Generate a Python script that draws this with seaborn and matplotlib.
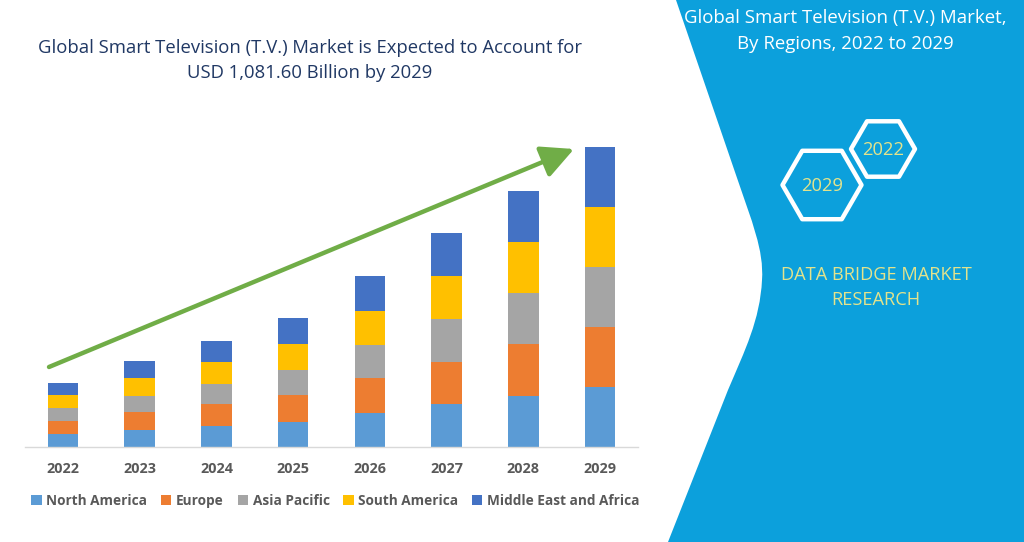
import numpy as np
import pandas as pd
import matplotlib
matplotlib.use("Agg")
import matplotlib.pyplot as plt
from matplotlib.path import Path
from matplotlib.patches import PathPatch, RegularPolygon
import seaborn as sns

# ---------------- data ----------------
years = ["2022", "2023", "2024", "2025", "2026", "2027", "2028", "2029"]
regions = ["North America", "Europe", "Asia Pacific", "South America", "Middle East and Africa"]
north_america = [46, 60, 77, 92, 123, 154, 184, 216]
europe = [47, 65, 79, 94, 126, 154, 187, 217]
asia_pacific = [46, 59, 71, 91, 119, 155, 185, 217]
south_america = [47, 64, 79, 94, 124, 154, 185, 216]
middle_east_africa = [45, 61, 78, 94, 125, 157, 184, 216]
series = [north_america, europe, asia_pacific, south_america, middle_east_africa]
colors = ["#5B9BD5", "#ED7D31", "#A5A5A5", "#FFC000", "#4472C4"]

title_lines = ["Global Smart Television (T.V.) Market is Expected to Account for",
               "USD 1,081.60 Billion by 2029"]
side_title = ["Global Smart Television (T.V.) Market,", "By Regions, 2022 to 2029"]
brand = ["DATA BRIDGE MARKET", "RESEARCH"]
hex_labels = ["2022", "2029"]

# ---------------- setup ----------------
sns.set_theme(style="white")
plt.rcParams["font.family"] = ["Open Sans", "DejaVu Sans"]

W, H = 1024, 542
fig = plt.figure(figsize=(W / 100, H / 100), dpi=100)
fig.patch.set_facecolor("white")

# background overlay in pixel coordinates (y downwards)
bg = fig.add_axes([0, 0, 1, 1], zorder=0)
bg.set_xlim(0, W)
bg.set_ylim(H, 0)
bg.axis("off")

blue = "#0CA0DC"
verts = [(676, 0), (736, 175), (752, 222), (764, 250), (762, 280),
         (760, 320), (745, 350), (728, 390), (668, 542), (W, 542), (W, 0), (676, 0)]
codes = [Path.MOVETO, Path.LINETO, Path.CURVE4, Path.CURVE4, Path.CURVE4,
         Path.CURVE4, Path.CURVE4, Path.CURVE4, Path.LINETO, Path.LINETO, Path.LINETO, Path.CLOSEPOLY]
bg.add_patch(PathPatch(Path(verts, codes), facecolor=blue, edgecolor="none"))

# hexagons
for (cx, cy, r) in [(883, 149, 32), (822, 185, 39.5)]:
    bg.add_patch(RegularPolygon((cx, cy), numVertices=6, radius=r, orientation=np.pi / 6,
                                facecolor="none", edgecolor="white", lw=3.2, joinstyle="round"))

renderer = fig.canvas.get_renderer()


def fit(t, width_px):
    w = t.get_window_extent(renderer).width
    t.set_fontsize(t.get_fontsize() * width_px / w)
    return t.get_fontsize()


txt_col = "#E3E38C"
t1 = bg.text(883, 150, hex_labels[0], ha="center", va="center", color=txt_col, fontsize=12)
fit(t1, 42)
t2 = bg.text(822, 186, hex_labels[1], ha="center", va="center", color=txt_col, fontsize=12)
fit(t2, 42)

b1 = bg.text(876, 275, brand[0], ha="center", va="center", color=txt_col, fontsize=12)
fs = fit(b1, 191)
bg.text(876, 300, brand[1], ha="center", va="center", color=txt_col, fontsize=fs)

s1 = bg.text(845, 18, side_title[0], ha="center", va="center", color="white", fontsize=12)
fs = fit(s1, 320)
bg.text(845, 44, side_title[1], ha="center", va="center", color="white", fontsize=fs)

title_col = "#203864"
m1 = bg.text(310, 48, title_lines[0], ha="center", va="center", color=title_col, fontsize=14)
fs = fit(m1, 546)
bg.text(310, 73, title_lines[1], ha="center", va="center", color=title_col, fontsize=fs)

# ---------------- chart ----------------
left_px, right_px, base_px, top_px = 24.6, 638.4, 447, 140
ax = fig.add_axes([left_px / W, (H - base_px) / H, (right_px - left_px) / W,
                   (base_px - top_px) / H], zorder=2)
ax.patch.set_alpha(0)

bottom = np.zeros(len(years))
for reg, vals, col in zip(regions, series, colors):
    df = pd.DataFrame({"Year": years, "Value": vals})
    sns.barplot(data=df, x="Year", y="Value", order=years, color=col, saturation=1,
                width=0.4, bottom=bottom, errorbar=None, linewidth=0, label=reg, ax=ax)
    bottom = bottom + np.array(vals, dtype=float)

ax.set_xlim(-0.5, len(years) - 0.5)
ax.set_ylim(0, (base_px - top_px) * 1081.6 / 299.7)
ax.set_xlabel("")
ax.set_ylabel("")
ax.set_yticks([])
for sp in ["top", "right", "left"]:
    ax.spines[sp].set_visible(False)
ax.spines["bottom"].set_color("#D9D9D9")
ax.spines["bottom"].set_linewidth(1)
ax.tick_params(axis="x", length=0, pad=11, labelsize=10.4, labelcolor="#595959")
for lab in ax.get_xticklabels():
    lab.set_fontweight("bold")

# trend arrow
ax.annotate("", xy=(574, H - 149), xytext=(49, H - 367),
            xycoords="figure pixels", textcoords="figure pixels", annotation_clip=False,
            arrowprops=dict(arrowstyle="-|>,head_length=0.9,head_width=0.45", color="#70AD47",
                            lw=3.2, mutation_scale=22, shrinkA=0, shrinkB=0))

handles, labels = ax.get_legend_handles_labels()
if ax.get_legend() is not None:
    ax.get_legend().remove()
leg = fig.legend(handles, labels, loc="center", bbox_to_anchor=(335.5 / W, (H - 501) / H),
                 ncol=5, frameon=False, handlelength=0.75, handleheight=0.75,
                 handletextpad=0.35, columnspacing=1.0, borderpad=0,
                 prop={"weight": "bold", "size": 9.85}, labelcolor="#595959")

fig.savefig("out.png", dpi=100)
